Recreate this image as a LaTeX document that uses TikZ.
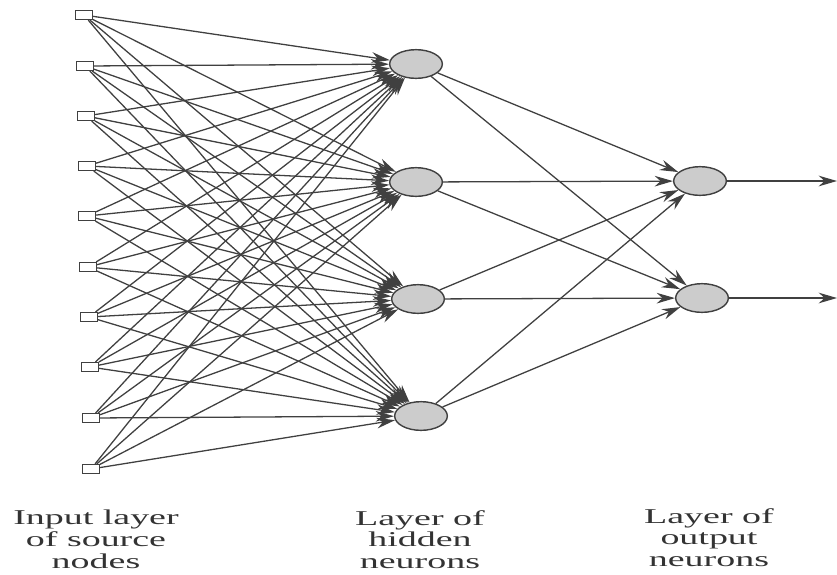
\documentclass[tikz,border=0pt]{standalone}
\usepackage{fontspec}
\setmainfont[FakeStretch=1.8]{Liberation Serif}
\usetikzlibrary{shapes.geometric,arrows.meta}

\tikzset{
    source/.style={rectangle, draw=black!75, fill=white, line width=1pt, inner sep=0pt, minimum width=0.5cm, minimum height=0.27cm},
    neuron/.style={ellipse, draw=black!75, fill=gray!40, line width=1.2pt, inner sep=0pt, minimum width=1.58cm, minimum height=0.86cm},
    synapse/.style={-{Stealth[length=0.55cm, width=0.32cm]}, draw=black!75, line width=1.1pt},
    caption/.style={align=center, anchor=north, inner sep=0pt, text=black!80, font=\fontsize{18}{18.6}\selectfont}
}

\begin{document}
\begin{tikzpicture}[x=0.03cm, y=-0.03cm]
    \useasboundingbox (0, 0) rectangle (837, 574);

    \node[source] (in1) at (84, 15) {};
    \node[source] (in2) at (85, 66) {};
    \node[source] (in3) at (86, 116) {};
    \node[source] (in4) at (87, 166) {};
    \node[source] (in5) at (87, 216) {};
    \node[source] (in6) at (88, 267) {};
    \node[source] (in7) at (89, 317) {};
    \node[source] (in8) at (90, 367) {};
    \node[source] (in9) at (91, 418) {};
    \node[source] (in10) at (91, 469) {};

    \node[neuron] (hid1) at (416, 64) {};
    \node[neuron] (hid2) at (416, 182) {};
    \node[neuron] (hid3) at (418, 299) {};
    \node[neuron] (hid4) at (421, 416) {};

    \node[neuron] (out1) at (700, 181) {};
    \node[neuron] (out2) at (702, 298) {};

    \coordinate (y1) at (837, 181);
    \coordinate (y2) at (837, 298);

    \draw[synapse] (in1) -- (hid1);
    \draw[synapse] (in1) -- (hid2);
    \draw[synapse] (in1) -- (hid3);
    \draw[synapse] (in1) -- (hid4);
    \draw[synapse] (in2) -- (hid1);
    \draw[synapse] (in2) -- (hid2);
    \draw[synapse] (in2) -- (hid3);
    \draw[synapse] (in2) -- (hid4);
    \draw[synapse] (in3) -- (hid1);
    \draw[synapse] (in3) -- (hid2);
    \draw[synapse] (in3) -- (hid3);
    \draw[synapse] (in3) -- (hid4);
    \draw[synapse] (in4) -- (hid1);
    \draw[synapse] (in4) -- (hid2);
    \draw[synapse] (in4) -- (hid3);
    \draw[synapse] (in4) -- (hid4);
    \draw[synapse] (in5) -- (hid1);
    \draw[synapse] (in5) -- (hid2);
    \draw[synapse] (in5) -- (hid3);
    \draw[synapse] (in5) -- (hid4);
    \draw[synapse] (in6) -- (hid1);
    \draw[synapse] (in6) -- (hid2);
    \draw[synapse] (in6) -- (hid3);
    \draw[synapse] (in6) -- (hid4);
    \draw[synapse] (in7) -- (hid1);
    \draw[synapse] (in7) -- (hid2);
    \draw[synapse] (in7) -- (hid3);
    \draw[synapse] (in7) -- (hid4);
    \draw[synapse] (in8) -- (hid1);
    \draw[synapse] (in8) -- (hid2);
    \draw[synapse] (in8) -- (hid3);
    \draw[synapse] (in8) -- (hid4);
    \draw[synapse] (in9) -- (hid1);
    \draw[synapse] (in9) -- (hid2);
    \draw[synapse] (in9) -- (hid3);
    \draw[synapse] (in9) -- (hid4);
    \draw[synapse] (in10) -- (hid1);
    \draw[synapse] (in10) -- (hid2);
    \draw[synapse] (in10) -- (hid3);
    \draw[synapse] (in10) -- (hid4);

    \draw[synapse] (hid1) -- (out1);
    \draw[synapse] (hid1) -- (out2);
    \draw[synapse] (hid2) -- (out1);
    \draw[synapse] (hid2) -- (out2);
    \draw[synapse] (hid3) -- (out1);
    \draw[synapse] (hid3) -- (out2);
    \draw[synapse] (hid4) -- (out1);
    \draw[synapse] (hid4) -- (out2);

    \draw[synapse] (out1) -- (y1);
    \draw[synapse] (out2) -- (y2);

    \node[caption] (inlab) at (96, 510) {Input layer\\of source\\nodes};
    \node[caption] (hidlab) at (420, 510) {Layer of\\hidden\\neurons};
    \node[caption] (outlab) at (709, 508) {Layer of\\output\\neurons};

\end{tikzpicture}
\end{document}
